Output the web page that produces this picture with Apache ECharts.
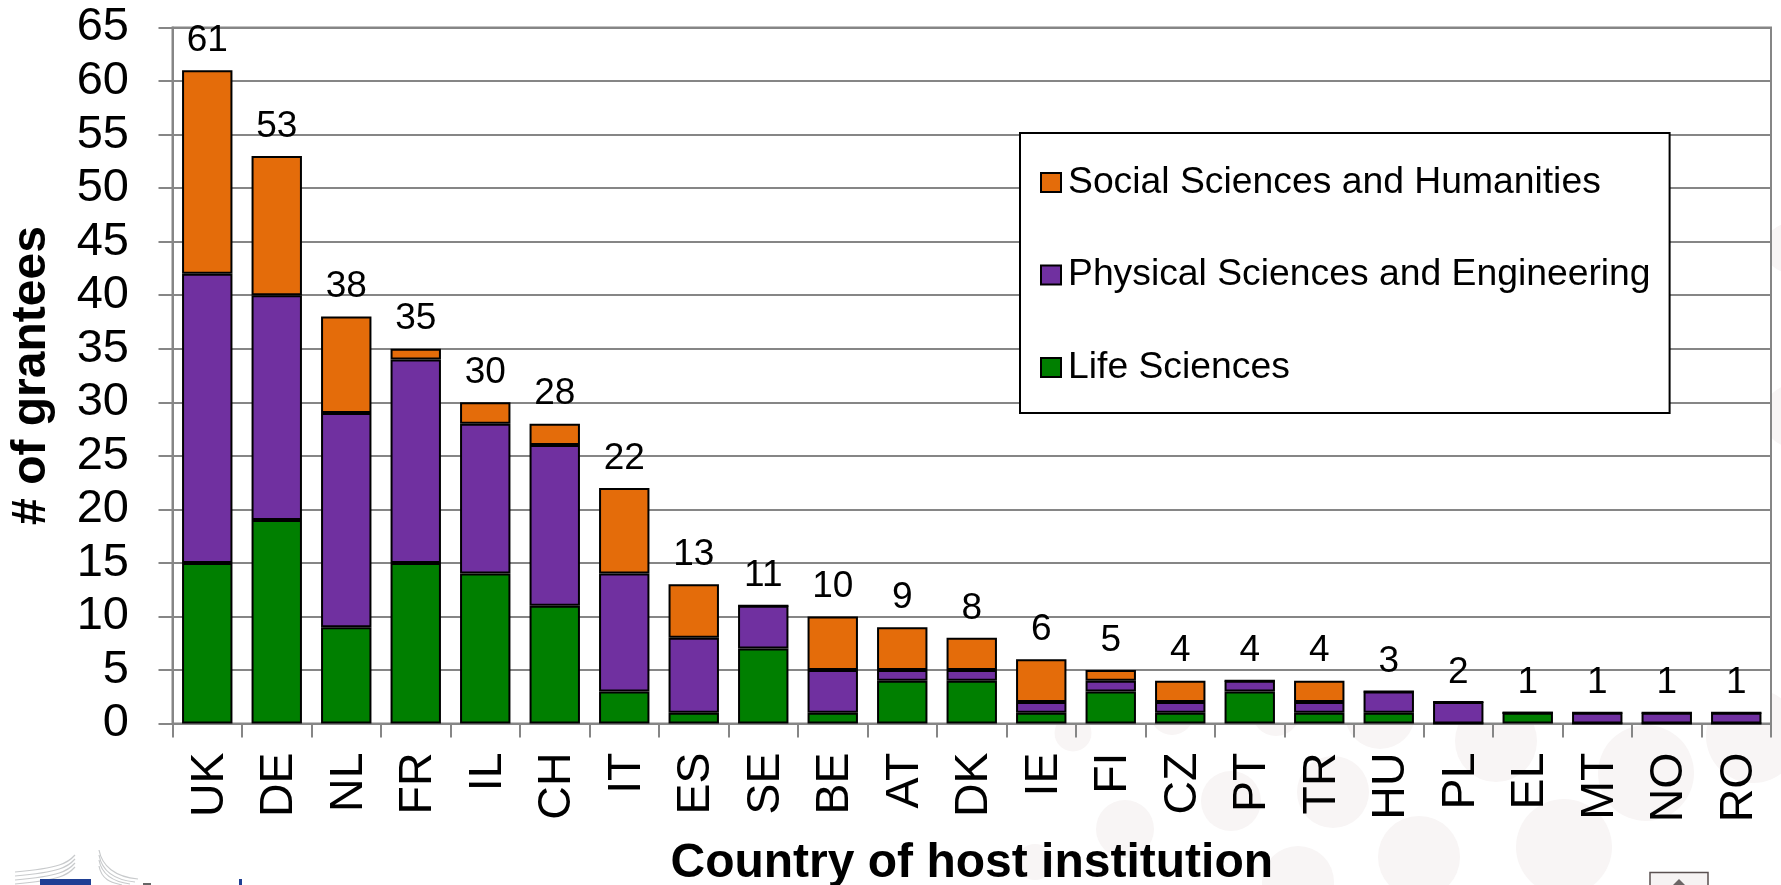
<!DOCTYPE html>
<html>
<head>
<meta charset="utf-8">
<style>html,body{margin:0;padding:0;background:#fff}#c{width:1781px;height:885px}</style>
<script src="https://cdn.jsdelivr.net/npm/echarts@6/dist/echarts.min.js"></script>
</head>
<body>
<div id="c"></div>
<script>
const categories = ['UK','DE','NL','FR','IL','CH','IT','ES','SE','BE','AT','DK','IE','FI','CZ','PT','TR','HU','PL','EL','MT','NO','RO'];
const lifeSciences = [15,19,9,15,14,11,3,1,7,1,4,4,1,3,1,3,1,1,0,1,0,0,0];
const physicalSciences = [27,21,20,19,14,15,11,7,4,4,1,1,1,1,1,1,1,2,2,0,1,1,1];
const socialSciences = [19,13,9,1,2,2,8,5,0,5,4,3,4,1,2,0,2,0,0,0,0,0,0];
const totals = [61,53,38,35,30,28,22,13,11,10,9,8,6,5,4,4,4,3,2,1,1,1,1];

const FONT = '"Liberation Sans", Arial, sans-serif';
const GREY = '#868686';
const dotFill = '#f8f5f5';

/* decorative page background, not chart data */
const backgroundDots = [
  [1073,733,18.5],[1172,713,22],[1276,712,24],[1380,714,35],[1496,741,41],[1753,736,47],
  [1125,829,29],[1231,801,30],[1333,792,36],[1419,857,41],[1298,882,36],[1035,862,18],
  [1564,847,48],[1646,773,48],[1790,248,25],[1795,416,32]
];
const graphics = backgroundDots.map(d => ({
  type:'circle', silent:true, z:-5,
  shape:{cx:d[0],cy:d[1],r:d[2]}, style:{fill:dotFill}
}));
/* footer emblem and page icon */
[[15,872,75,855],[15,876,75,859],[15,880,75,863],[15,884,75,867]].forEach(l=>{
  graphics.push({type:'bezierCurve',silent:true,z:-4,
    shape:{x1:l[0],y1:l[1],x2:l[2],y2:l[3],cpx1:60,cpy1:l[1]-4,cpx2:68,cpy2:l[3]+8},
    style:{stroke:'#c8cacc',lineWidth:1.2,fill:'none'}});
});
[[99,855,135,882],[99,860,130,884],[99,866,122,885],[99,850,138,879]].forEach(l=>{
  graphics.push({type:'bezierCurve',silent:true,z:-4,
    shape:{x1:l[0],y1:l[1],x2:l[2],y2:l[3],cpx1:102,cpy1:l[1]+16,cpx2:115,cpy2:l[3]-2},
    style:{stroke:'#c8cacc',lineWidth:1.2,fill:'none'}});
});
graphics.push({type:'rect',silent:true,z:-4,shape:{x:40,y:879,width:51,height:6},style:{fill:'#1f3f94'}});
graphics.push({type:'rect',silent:true,z:-4,shape:{x:239,y:879,width:3,height:6},style:{fill:'#1f3f94'}});
graphics.push({type:'rect',silent:true,z:-4,shape:{x:143,y:883,width:8,height:2},style:{fill:'#666'}});
graphics.push({type:'rect',silent:true,z:-4,shape:{x:1650,y:872.5,width:58,height:14},style:{fill:'#f6f3f3',stroke:'#5a5050',lineWidth:1.5}});
graphics.push({type:'polygon',silent:true,z:-4,shape:{points:[[1673,885],[1679,879],[1685,885]]},style:{fill:'#6b6565'}});

const chart = echarts.init(document.getElementById('c'), null, {renderer:'canvas'});
const barSeries = (name, data, color) => ({
  name, type:'bar', stack:'g', data, barWidth:'72.5%',
  itemStyle:{color, borderColor:'#000', borderWidth:2},
  emphasis:{disabled:true}
});
chart.setOption({
  animation:false,
  backgroundColor:'#fff',
  textStyle:{fontFamily:FONT},
  grid:{left:172.5,right:10,top:27.5,bottom:161.5,show:true,backgroundColor:'#fff',borderColor:GREY,borderWidth:2,containLabel:false,outerBoundsMode:'none'},
  graphic:{elements:graphics},
  legend:{
    orient:'vertical', left:1020, top:133, icon:'rect',
    padding:[31,19,27,20], itemGap:55.5, itemWidth:20, itemHeight:19,
    backgroundColor:'#fff', borderColor:'#000', borderWidth:2,
    data:['Social Sciences and Humanities','Physical Sciences and Engineering','Life Sciences'],
    itemStyle:{borderColor:'#000',borderWidth:2},
    textStyle:{fontFamily:FONT,fontSize:37.3,color:'#000',padding:[0,0,6,2]},
    selectedMode:false
  },
  xAxis:{
    type:'category', data:categories,
    name:'Country of host institution', nameLocation:'middle', nameGap:116,
    nameTextStyle:{fontFamily:FONT,fontSize:48,fontWeight:'bold',color:'#000'},
    axisLine:{lineStyle:{color:GREY,width:2}},
    axisTick:{show:true,length:14,alignWithLabel:false,lineStyle:{color:GREY,width:2}},
    axisLabel:{rotate:90,interval:0,margin:29,fontFamily:FONT,fontSize:46.5,color:'#000',verticalAlign:'top',lineHeight:5},
    splitLine:{show:false}
  },
  yAxis:{
    type:'value', min:0, max:65, interval:5,
    name:'# of grantees', nameLocation:'middle', nameGap:117,
    nameTextStyle:{fontFamily:FONT,fontSize:48,fontWeight:'bold',color:'#000'},
    axisLine:{show:true,lineStyle:{color:GREY,width:2}},
    axisTick:{show:true,length:14,lineStyle:{color:GREY,width:2}},
    axisLabel:{margin:43.5,fontFamily:FONT,fontSize:47,color:'#000'},
    splitLine:{show:true,lineStyle:{color:GREY,width:2}}
  },
  series:[
    barSeries('Life Sciences', lifeSciences, '#007F00'),
    barSeries('Physical Sciences and Engineering', physicalSciences, '#7030A0'),
    barSeries('Social Sciences and Humanities', socialSciences, '#E46C0A'),
    {
      name:'Total', type:'line', data:totals,
      symbol:'circle', symbolSize:0, lineStyle:{opacity:0,width:0}, itemStyle:{opacity:0},
      label:{show:true,position:'top',distance:11,fontFamily:FONT,fontSize:37,color:'#000',opacity:1},
      emphasis:{disabled:true}, z:5
    }
  ]
});
</script>
</body>
</html>
